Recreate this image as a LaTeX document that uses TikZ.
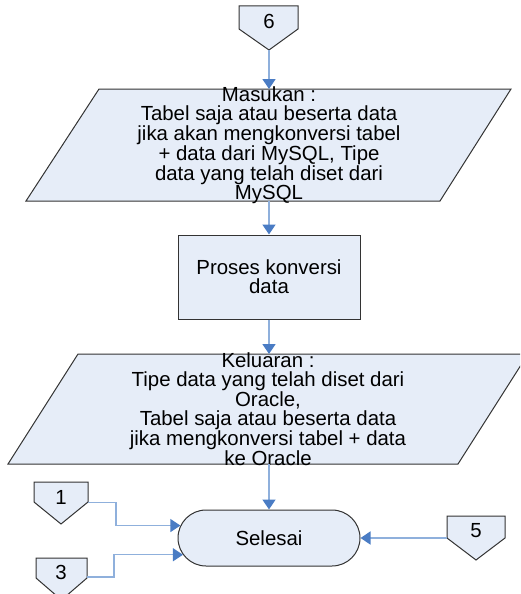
\documentclass[tikz,border=0pt]{standalone}
\usepackage{fontspec}
\setmainfont{Liberation Sans}
\usetikzlibrary{arrows.meta,shapes.misc}
\definecolor{fillb}{HTML}{E6EDF8}
\definecolor{lineb}{HTML}{8FB0DC}
\definecolor{headb}{HTML}{4A7CC4}
\definecolor{edgec}{HTML}{333333}
\begin{document}
\begin{tikzpicture}[x=1pt,y=-1pt,
  shp/.style={draw=edgec,fill=fillb,line width=1pt},
  txt/.style={align=center,inner sep=0pt,font=\fontsize{20.4}{18.8}\selectfont},
  conn/.style={draw=lineb,line width=1.5pt,-{Triangle[length=10pt,width=13pt,color=headb,fill=headb]}}
]
\useasboundingbox (0,0) rectangle (520,594);
\begin{scope}
\clip (0,0) rectangle (520,594);
% off-page connector 6
\draw[shp] (239,6) -- (298,6) -- (298,29) -- (269,50) -- (239,29) -- cycle;
\node[txt] (n6) at (269,21.5) {6};
\coordinate (c6) at (269,50);

% input parallelogram
\draw[shp] (99,89) -- (511,89) -- (440,201) -- (26,201) -- cycle;
\coordinate (p1t) at (269,89);
\coordinate (p1b) at (269,201);
\node[txt] (masukan) at (269,145) {Masukan :\\Tabel saja atau beserta data\\jika akan mengkonversi tabel\\+ data dari MySQL, Tipe\\data yang telah diset dari\\MySQL};

% process
\node[shp,txt,minimum width=182pt,minimum height=84pt] (proses) at (269,277) {Proses konversi\\data};

% output parallelogram
\draw[shp] (78,354) -- (528,354) -- (458,464) -- (8,464) -- cycle;
\coordinate (p2t) at (269,354);
\coordinate (p2b) at (269,464);
\node[txt] (keluaran) at (268,409) {Keluaran :\\Tipe data yang telah diset dari\\Oracle,\\Tabel saja atau beserta data\\jika mengkonversi tabel + data\\ke Oracle};

% terminator
\node[shp,txt,rounded rectangle,minimum width=182pt,minimum height=56pt] (selesai) at (269,538) {Selesai};

% off-page connectors 1, 3, 5
\draw[shp] (34,482) -- (88,482) -- (88,502) -- (61,524) -- (34,502) -- cycle;
\node[txt] (n1) at (61,497) {1};
\coordinate (c1) at (88,502.5);

\draw[shp] (36,558) -- (87,558) -- (87,578) -- (61.5,600) -- (36,578) -- cycle;
\node[txt] (n3) at (61,572) {3};
\coordinate (c3) at (87,577);

\draw[shp] (447,516) -- (505,516) -- (505,538) -- (476,560) -- (447,538) -- cycle;
\node[txt] (n5) at (476,531) {5};
\coordinate (c5) at (447,538);

% connectors
\draw[conn] (c6) -- (p1t);
\draw[conn] (p1b) -- (proses.north);
\draw[conn] (proses.south) -- (p2t);
\draw[conn] (p2b) -- (selesai.north);
\draw[conn] (c1) -- ++(28,0) |- (selesai.172);
\draw[conn] (c3) -- ++(27,0) |- (selesai.191);
\draw[conn] (c5) -- (selesai.east);
\end{scope}
\end{tikzpicture}
\end{document}
